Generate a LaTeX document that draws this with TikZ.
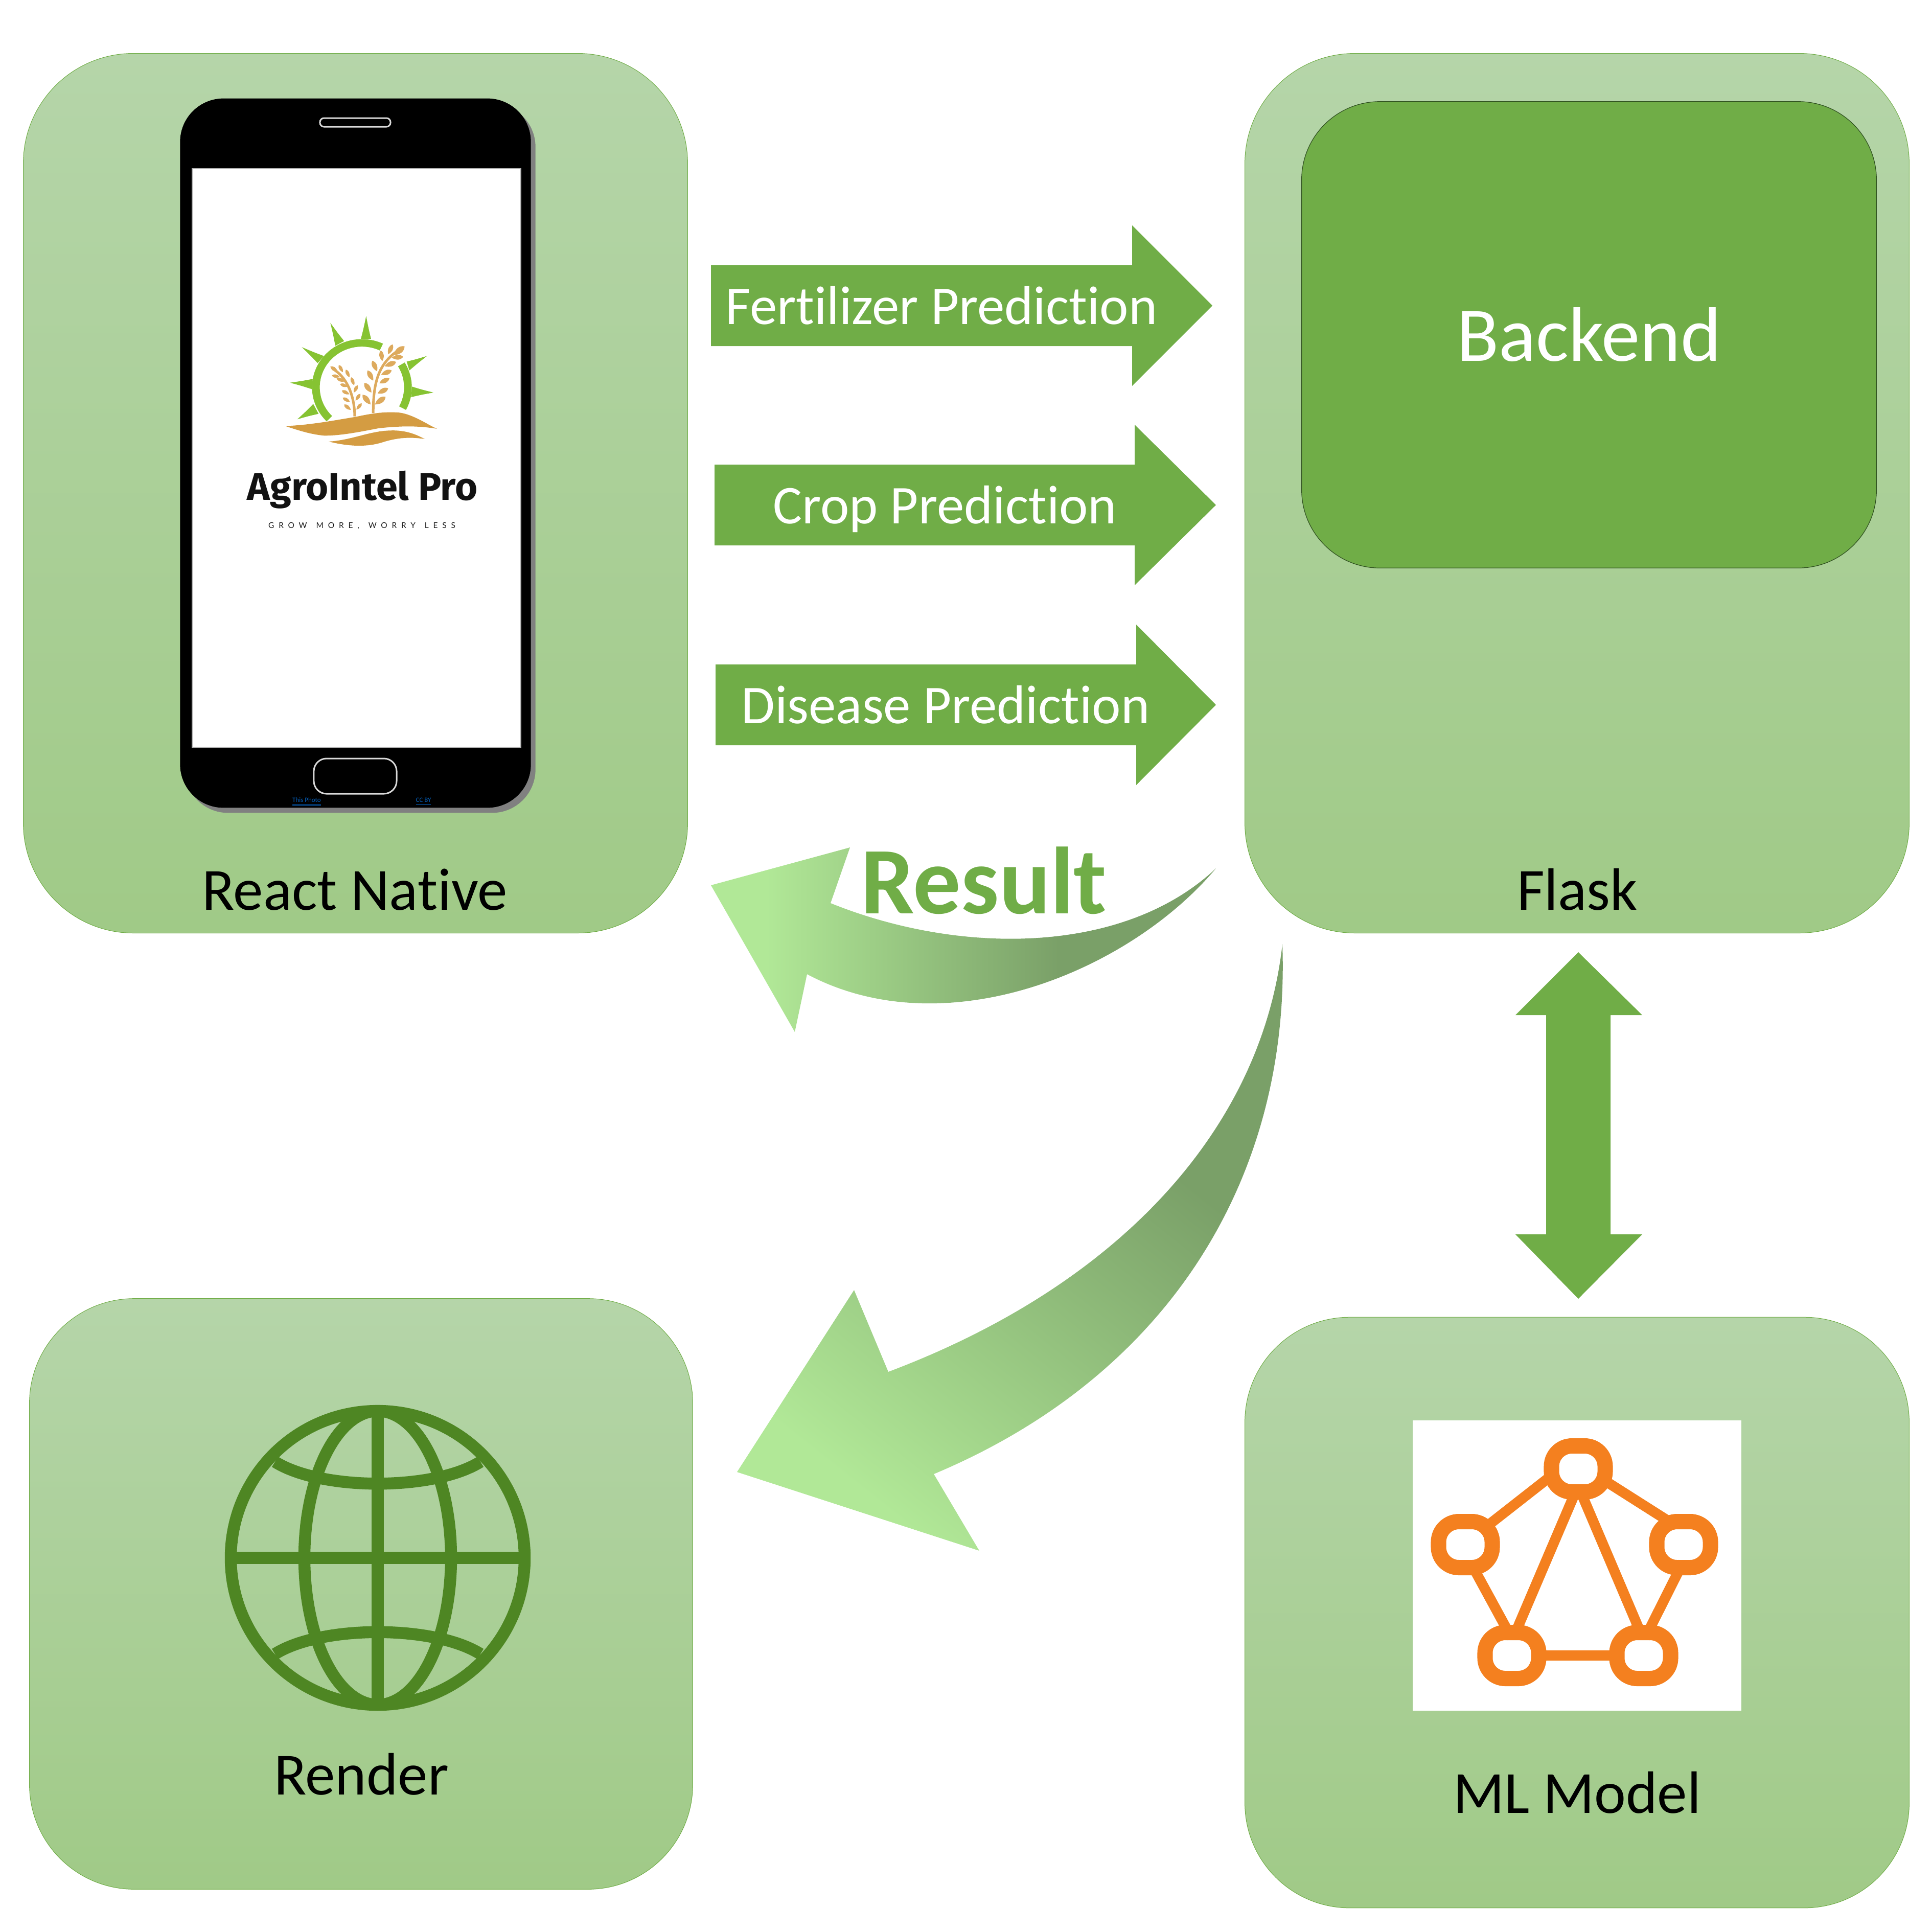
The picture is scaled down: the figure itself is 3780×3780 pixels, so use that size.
\documentclass[tikz,border=0pt]{standalone}
\usepackage{fontspec}
\setmainfont[Ligatures=NoCommon]{Carlito}
\newfontfamily\logofont{Fira Sans}
\newfontfamily\tagfont[LetterSpace=57,WordSpace=1.4]{Lato}
\usetikzlibrary{calc}

\definecolor{paneltop}{HTML}{B5D5A9}
\definecolor{panelbot}{HTML}{A0CA87}
\definecolor{leafgreen}{HTML}{70AD47}
\definecolor{backedge}{HTML}{2F5020}
\definecolor{arrowlite}{HTML}{B1E897}
\definecolor{arrowdark}{HTML}{7AA068}
\definecolor{sungreen}{HTML}{86C332}
\definecolor{soilgold}{HTML}{D49C42}
\definecolor{wheatgold}{HTML}{DDAA5E}
\definecolor{globegreen}{HTML}{4E8623}
\definecolor{mlorange}{HTML}{F4801F}
\definecolor{linkblue}{HTML}{0563C1}

\pgfdeclarehorizontalshading{resultshade}{100bp}{color(0bp)=(arrowlite); color(30.5bp)=(arrowlite); color(59.5bp)=(arrowdark); color(100bp)=(arrowdark)}
\pgfdeclarehorizontalshading{deployshade}{100bp}{color(0bp)=(arrowlite); color(28.4bp)=(arrowlite); color(61.9bp)=(arrowdark); color(100bp)=(arrowdark)}

\begin{document}
\begin{tikzpicture}[
        % --- coordinates are pixels of the 3780 canvas, y downwards ---
        x=0.01cm, y=-0.01cm,
        every node/.style={inner sep=0pt, outer sep=0pt},
        panel/.style={rectangle, rounded corners=2.15cm, draw=leafgreen, line width=0.01cm,
            top color=paneltop, bottom color=panelbot},
        backbox/.style={rectangle, rounded corners=1.53cm, draw=backedge, line width=0.012cm,
            fill=leafgreen, text=white, font=\fontsize{43}{50}\selectfont},
        caption/.style={anchor=base, text=black, font=\fontsize{33.3}{40}\selectfont},
        predarrow/.style={fill=leafgreen},
        predtext/.style={anchor=base, text=white, font=\fontsize{30.4}{36}\selectfont},
        phonebody/.style={rectangle, rounded corners=0.85cm, minimum width=6.86cm, minimum height=13.87cm},
        phonekey/.style={rectangle, draw=white!85!black, line width=0.03cm},
        photolink/.style={text=linkblue, font=\fontsize{3.7}{4.5}\selectfont},
        mlbox/.style={rectangle, rounded corners=0.4cm, draw=mlorange, fill=white, line width=0.3cm,
            minimum width=1.05cm, minimum height=0.9cm},
        mlwire/.style={draw=mlorange, line width=0.2cm, shorten <=-0.12cm, shorten >=-0.12cm},
        globeline/.style={draw=globegreen, line width=0.234cm}
    ]
    \useasboundingbox (0,0) rectangle (3780,3780);

    % --- panels ---
    \node[panel, minimum width=12.99cm, minimum height=17.2cm] (reactbox) at (695.5,965) {};
    \node[panel, minimum width=12.99cm, minimum height=17.2cm] (flaskbox) at (3085.5,965) {};
    \node[panel, minimum width=12.97cm, minimum height=11.55cm, rounded corners=2.05cm] (renderbox) at (706.5,3118.5) {};
    \node[panel, minimum width=12.99cm, minimum height=11.55cm, rounded corners=2.05cm] (mlpanel) at (3085.5,3155) {};
    \node[backbox, minimum width=11.24cm, minimum height=9.12cm] (backend) at (3109,655) {Backend};

    \node[caption] (reactlabel) at (694,1780) {React Native};
    \node[caption] (flasklabel) at (3086,1780) {Flask};
    \node[caption] (renderlabel) at (707,3511) {Render};
    \node[caption] (mllabel) at (3086,3547) {ML Model};

    % --- phone ---
    \node[phonebody, fill=black!50] (phoneshadow) at (704.5,896.5) {};
    \node[phonebody, fill=black] (phone) at (695.5,886.5) {};
    \node[rectangle, fill=white, draw=white!70!black, line width=0.02cm,
        minimum width=6.43cm, minimum height=11.32cm] (screen) at (697.5,896) {};
    \node[phonekey, rounded corners=0.08cm, minimum width=1.38cm, minimum height=0.17cm] (speaker) at (695,239.5) {};
    \node[phonekey, rounded corners=0.25cm, minimum width=1.62cm, minimum height=0.69cm] (homekey) at (695,1518.5) {};
    \node[photolink] (thisphoto) at (600,1569) {\underline{This Photo}};
    \node[photolink] (ccby) at (828.5,1569) {\underline{CC BY}};

    % --- logo, in its own grid ---
    \begin{scope}[shift={(430,580)}, x=0.003444cm, y=-0.003333cm]
        \fill[sungreen] (806,534) ++(-65:283) arc[start angle=-65, end angle=-225, radius=283]
            -- ($(806,534)+(-225:239)$) arc[start angle=-225, end angle=-65, radius=239] -- cycle;
        \fill[sungreen] (806,534) ++(-31:283) arc[start angle=-31, end angle=28, radius=283]
            -- ($(806,534)+(28:239)$) arc[start angle=28, end angle=-31, radius=239] -- cycle;
        \foreach \ax/\ay/\tx/\ty/\bx/\by in {
            800/250/830/115/858/250, 655/290/627/155/705/262, 555/392/465/298/590/350,
            527/485/398/507/522/545, 530/632/440/722/560/690,
            1060/383/1175/350/1075/435, 1090/530/1212/565/1085/592}
            \fill[sungreen] (\ax,\ay) .. controls ($(\ax,\ay)!.05!(\bx,\by)!.45!(\tx,\ty)$) .. (\tx,\ty)
                .. controls ($(\bx,\by)!.05!(\ax,\ay)!.45!(\tx,\ty)$) .. (\bx,\by) -- cycle;
        % soil
        \fill[soilgold] (372,762) .. controls (520,755) and (640,730) .. (770,708)
            .. controls (850,690) and (930,675) .. (1020,683)
            .. controls (1100,695) and (1180,755) .. (1232,778)
            .. controls (1130,760) and (1030,760) .. (900,775)
            .. controls (800,795) and (680,820) .. (590,818)
            .. controls (510,810) and (440,785) .. (372,762) -- cycle;
        \fill[soilgold] (617,853) .. controls (750,845) and (850,790) .. (970,788)
            .. controls (1060,785) and (1120,815) .. (1162,838)
            .. controls (1080,825) and (1010,830) .. (930,855)
            .. controls (860,880) and (760,890) .. (617,853) -- cycle;
        % wheat
        \draw[wheatgold, line width=0.05cm] (765,705) .. controls (765,600) and (730,480) .. (640,425);
        \draw[wheatgold, line width=0.05cm] (870,685) .. controls (870,500) and (900,380) .. (1040,300);
        \foreach \ax/\ay/\tx/\ty in {
            668/440/627/412, 698/445/675/403, 735/475/715/430, 762/522/745/475,
            760/565/782/522, 770/612/797/572, 775/665/805/628,
            680/472/635/465, 708/500/662/480, 725/530/682/515, 735/575/692/553,
            738/620/697/595, 743/667/705/635,
            880/635/940/590, 895/570/955/540, 905/510/962/482, 915/460/975/435,
            935/410/1000/385, 975/360/1040/355, 985/345/1048/293, 955/340/980/282,
            855/635/810/578, 860/565/820/508, 870/495/838/435, 892/440/865/378, 922/380/913/318}
            \fill[wheatgold] (\ax,\ay) .. controls ($(\ax,\ay)!.5!35:(\tx,\ty)$) and ($(\ax,\ay)!.8!20:(\tx,\ty)$) .. (\tx,\ty)
                .. controls ($(\ax,\ay)!.8!-20:(\tx,\ty)$) and ($(\ax,\ay)!.5!-35:(\tx,\ty)$) .. (\ax,\ay) -- cycle;
    \end{scope}
    \node[anchor=base, text=black!93, font=\logofont\bfseries\fontsize{21.5}{26}\selectfont] (logotitle) at (709,978) {AgroIntel Pro};
    \node[text=black!90, font=\tagfont\fontsize{4.4}{5}\selectfont] (logotag) at (708,1029) {GROW MORE, WORRY LESS};

    % --- request arrows ---
    \foreach \nm/\xa/\xb/\xc/\ym/\xt/\txt in {
            fert/1391/2215/2372/598/1842/Fertilizer Prediction,
            crop/1398/2220/2379/988/1849/Crop Prediction,
            dis/1400/2223/2379/1379/1850/Disease Prediction}{
        \fill[predarrow] (\xa,\ym-79) -- (\xb,\ym-79) -- (\xb,\ym-157) -- (\xc,\ym)
            -- (\xb,\ym+157) -- (\xb,\ym+79) -- (\xa,\ym+79) -- cycle;
        \node[predtext] (\nm) at (\xt,\ym+36) {\txt};
    }

    % --- result arrow ---
    \path[shading=resultshade] (1391,1732) -- (1663,1658) -- (1625,1767)
        .. controls (1880,1870) and (2200,1868) .. (2379,1699)
        .. controls (2210,1900) and (1850,2050) .. (1579,1906)
        -- (1555,2019) -- cycle;
    \node[anchor=base, text=leafgreen, font=\bfseries\fontsize{53}{60}\selectfont] (resulttext) at (1925,1787) {Result};

    % --- deploy arrow ---
    \begin{scope}
        \clip (2509,1847) .. controls (2470,2200) and (2200,2510) .. (1738,2684)
            -- (1671,2524) -- (1442,2880) -- (1916,3034) -- (1827,2884)
            .. controls (2290,2690) and (2525,2300) .. (2509,1847) -- cycle;
        \path[shading=deployshade, shading angle=51.6] (1335,1790) rectangle (2635,3090);
    \end{scope}

    % --- flask to model arrow ---
    \fill[predarrow] (3088,1863) -- (3213,1986) -- (3151,1986) -- (3151,2415) -- (3213,2415)
        -- (3088,2541) -- (2965,2415) -- (3025,2415) -- (3025,1986) -- (2965,1986) -- cycle;

    % --- globe ---
    \coordinate (globe) at (739,3048);
    \draw[globeline] (globe) circle[radius=287.5];
    \draw[globeline] (globe) ellipse[x radius=143.5, y radius=287.5];
    \draw[globeline] ($(globe)+(0,-287.5)$) -- ($(globe)+(0,287.5)$);
    \draw[globeline] ($(globe)+(-287.5,0)$) -- ($(globe)+(287.5,0)$);
    \draw[globeline] ($(globe)+(-201,-188)$) .. controls ($(globe)+(-110,-131)$) and ($(globe)+(110,-131)$) .. ($(globe)+(201,-188)$);
    \draw[globeline] ($(globe)+(-201,188)$) .. controls ($(globe)+(-110,131)$) and ($(globe)+(110,131)$) .. ($(globe)+(201,188)$);

    % --- model icon ---
    \node[rectangle, fill=white, minimum width=6.43cm, minimum height=5.68cm] (mlsheet) at (3085.5,3063) {};
    \node[mlbox] (mltop) at (3088,2874) {};
    \node[mlbox] (mlleft) at (2867,3022) {};
    \node[mlbox] (mlright) at (3294,3022) {};
    \node[mlbox] (mlbl) at (2958,3239) {};
    \node[mlbox] (mlbr) at (3216,3239) {};
    \draw[mlwire] (mltop.194) -- (mlleft.40);
    \draw[mlwire] (mltop.-24) -- (mlright.122);
    \draw[mlwire] (mltop.-97) -- (mlbl.81);
    \draw[mlwire] (mltop.-84) -- (mlbr.98);
    \draw[mlwire] (mlleft.-71) -- (mlbl.98);
    \draw[mlwire] (mlright.-98) -- (mlbr.80);
    \draw[mlwire] (mlbl.east) -- (mlbr.west);
\end{tikzpicture}
\end{document}
